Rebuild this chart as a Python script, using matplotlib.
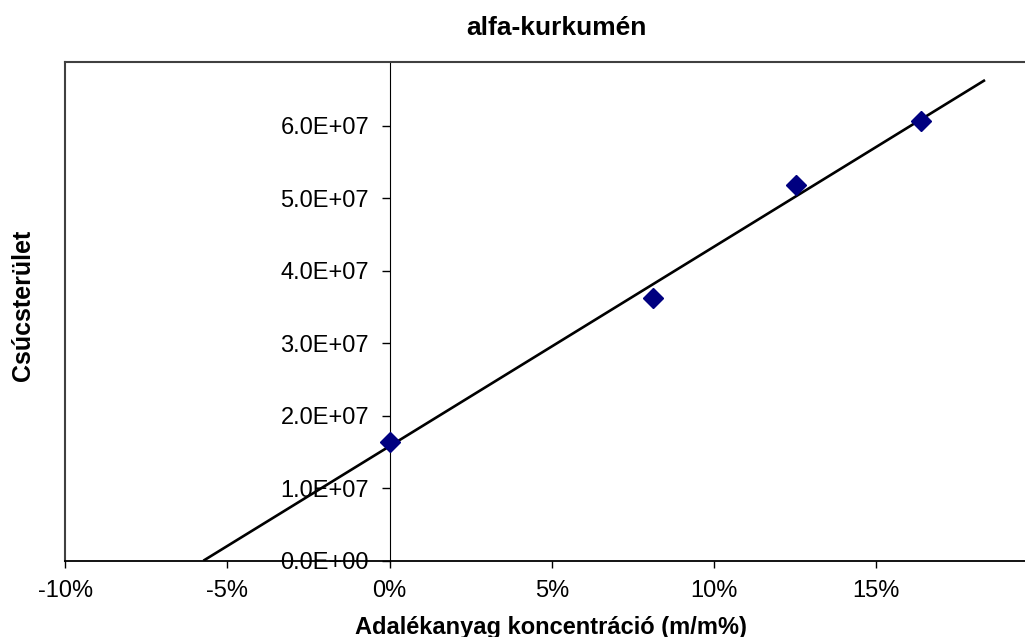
import numpy as np
import matplotlib
matplotlib.use("Agg")
import matplotlib.pyplot as plt
from matplotlib.ticker import FuncFormatter
from matplotlib.lines import Line2D

# ---- data ----
title = "alfa-kurkumén"
x_label = "Adalékanyag koncentráció (m/m%)"
y_label = "Csúcsterület"
conc_pct = [0.0, 8.13, 12.53, 16.38]          # added concentration, %
peak_area = [1.64e7, 3.62e7, 5.18e7, 6.06e7]   # peak area
trend_end_pct = 18.36                          # trendline forward end
x_ticks = [-10, -5, 0, 5, 10, 15]
y_ticks = [0, 1e7, 2e7, 3e7, 4e7, 5e7, 6e7]

plt.rcParams['font.family'] = ['Liberation Sans', 'DejaVu Sans']

W, H = 1025, 637
fig = plt.figure(figsize=(W / 100, H / 100), dpi=100)
fig.patch.set_facecolor('white')

left_px, top_px, bottom_px, right_px = 65.3, 61.7, 560.7, 1038.2
ax = fig.add_axes([left_px / W, 1 - bottom_px / H,
                   (right_px - left_px) / W, (bottom_px - top_px) / H])
ax.set_xlim(-10, 20)
ax.set_ylim(0, 6.88e7)

# regression trendline from x-intercept to forward end
a, b = np.polyfit(conc_pct, peak_area, 1)
x0 = -b / a
xs = np.array([x0, trend_end_pct])
ax.plot(xs, a * xs + b, color='black', lw=1.9, zorder=3, solid_capstyle='butt')

ax.plot(conc_pct, peak_area, linestyle='none', marker='D', ms=10.5,
        mfc='#000080', mec='#000080', mew=1, zorder=4, clip_on=False)

# spines / frame
ax.spines['left'].set_position(('data', 0))
ax.spines['left'].set_color('black')
ax.spines['left'].set_linewidth(0.8)
ax.spines['bottom'].set_color('black')
ax.spines['bottom'].set_linewidth(1.3)
ax.spines['top'].set_color('#404040')
ax.spines['top'].set_linewidth(1.5)
ax.spines['right'].set_visible(False)
ax.add_line(Line2D([0, 0], [0, 1], transform=ax.transAxes, color='#404040',
                   lw=1.5, clip_on=False, zorder=2))

ax.set_xticks(x_ticks)
ax.set_yticks(y_ticks)
ax.xaxis.set_major_formatter(FuncFormatter(lambda v, p: f"{v:.0f}%"))
ax.yaxis.set_major_formatter(FuncFormatter(lambda v, p: f"{v:.1E}"))
ax.tick_params(axis='x', direction='out', length=4.8, width=1, pad=9,
               labelsize=17, colors='black')
ax.tick_params(axis='y', direction='out', length=5.8, width=1, pad=9,
               labelsize=17, colors='black')

fig.text(556 / W, 1 - 35 / H, title, ha='center', va='baseline',
         fontsize=19, fontweight='bold')
fig.text(551 / W, 1 - 634 / H, x_label, ha='center', va='baseline',
         fontsize=17, fontweight='bold')
fig.text(23 / W, 1 - 305 / H, y_label, ha='center', va='center',
         rotation=90, fontsize=18, fontweight='bold')

fig.savefig('out.png', dpi=100, facecolor='white')
